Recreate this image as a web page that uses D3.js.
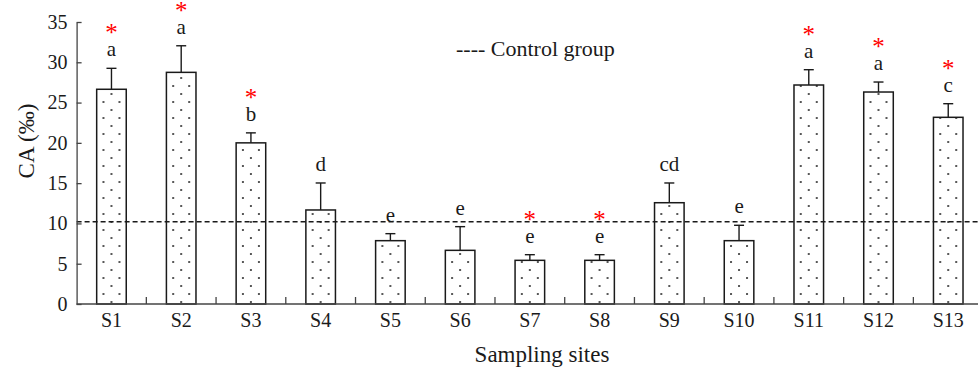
<!DOCTYPE html>
<html>
<head>
<meta charset="utf-8">
<script src="https://cdn.jsdelivr.net/npm/d3@7"></script>
<style>
  html, body { margin: 0; padding: 0; background: #fff; }
  svg { display: block; font-family: "Liberation Serif", "Times New Roman", serif; }
</style>
</head>
<body>
<svg id="chart" width="978" height="368"></svg>
<script>
// Sampling sites and their CA values (mean and standard deviation, ‰)
const sites = ["S1", "S2", "S3", "S4", "S5", "S6", "S7", "S8", "S9", "S10", "S11", "S12", "S13"];
const means = [26.65, 28.75, 20.0, 11.67, 7.86, 6.66, 5.42, 5.42, 12.57, 7.86, 27.18, 26.31, 23.17];
const errors = [2.6, 3.3, 1.24, 3.35, 0.87, 2.94, 0.7, 0.7, 2.45, 1.91, 1.9, 1.24, 1.69];
// Significance letters and asterisks (difference from the control group)
const letters = ["a", "a", "b", "d", "e", "e", "e", "e", "cd", "e", "a", "a", "c"];
const starred = [true, true, true, false, false, false, true, true, false, false, true, true, true];
const controlValue = 10.2;
const yTicks = [0, 5, 10, 15, 20, 25, 30, 35];

const W = 978, H = 368;
const plotLeft = 76.6, plotRight = 983.1, plotTop = 22, plotBottom = 304;
const ink = "#1a1a1a";

const svg = d3.select("#chart");

const x = d3.scaleBand().domain(sites).range([plotLeft, plotRight]).padding(0);
const y = d3.scaleLinear().domain([0, 35]).range([plotBottom, plotTop]);
const barW = x.bandwidth() * 0.424;
const cx = s => x(s) + x.bandwidth() / 2;

const rows = sites.map((s, i) => ({
  site: s, mean: means[i], err: errors[i], letter: letters[i], star: starred[i]
}));

// Dotted fill: one pattern per bar so the dot columns sit symmetric in each bar
const defs = svg.append("defs");
rows.forEach((d, i) => {
  const p = defs.append("pattern")
    .attr("id", "dots" + i)
    .attr("patternUnits", "userSpaceOnUse")
    .attr("width", 16).attr("height", 16)
    .attr("x", cx(d.site) - 4)
    .attr("y", y(0) - 6);
  p.append("rect").attr("width", 16).attr("height", 16).attr("fill", "#fff");
  p.append("circle").attr("cx", 4).attr("cy", 4).attr("r", 0.95).attr("fill", "#111");
  p.append("circle").attr("cx", 12).attr("cy", 12).attr("r", 0.95).attr("fill", "#111");
});

// Bars
svg.append("g").selectAll("rect")
  .data(rows).join("rect")
  .attr("x", d => cx(d.site) - barW / 2)
  .attr("y", d => y(d.mean))
  .attr("width", barW)
  .attr("height", d => y(0) - y(d.mean))
  .attr("fill", (d, i) => `url(#dots${i})`)
  .attr("stroke", ink)
  .attr("stroke-width", 1.5);

// Upper error bars
const eb = svg.append("g").attr("stroke", ink).attr("stroke-width", 1.4);
eb.selectAll("line.v").data(rows).join("line").attr("class", "v")
  .attr("x1", d => cx(d.site)).attr("x2", d => cx(d.site))
  .attr("y1", d => y(d.mean)).attr("y2", d => y(d.mean + d.err));
eb.selectAll("line.c").data(rows).join("line").attr("class", "c")
  .attr("x1", d => cx(d.site) - 5).attr("x2", d => cx(d.site) + 5)
  .attr("y1", d => y(d.mean + d.err)).attr("y2", d => y(d.mean + d.err));

// Control group reference line
svg.append("line")
  .attr("x1", plotLeft).attr("x2", W)
  .attr("y1", y(controlValue)).attr("y2", y(controlValue))
  .attr("stroke", ink).attr("stroke-width", 1.5)
  .attr("stroke-dasharray", "5,3");

// Significance letters
svg.append("g").selectAll("text")
  .data(rows).join("text")
  .attr("x", d => cx(d.site))
  .attr("y", d => y(d.mean + d.err) - 12)
  .attr("text-anchor", "middle")
  .attr("font-size", 21)
  .attr("fill", ink)
  .text(d => d.letter);

// Asterisks for sites different from control
svg.append("g").selectAll("text")
  .data(rows.filter(d => d.star)).join("text")
  .attr("x", d => cx(d.site))
  .attr("y", d => y(d.mean + d.err) - 12 - 15)
  .attr("text-anchor", "middle")
  .attr("font-size", 25)
  .attr("fill", "#ff0000")
  .text("*");

// Y axis with inward ticks
const yAxis = d3.axisLeft(y).tickValues(yTicks).tickSizeInner(-5).tickSizeOuter(0).tickPadding(9);
const gy = svg.append("g").attr("transform", `translate(${plotLeft},0)`).call(yAxis);
gy.select(".domain").attr("stroke", "#444").attr("stroke-width", 1.3);
gy.selectAll(".tick line").attr("stroke", "#444").attr("stroke-width", 1.3);
gy.selectAll(".tick text").attr("font-size", 20).attr("font-family", "Liberation Serif").attr("fill", ink);

// X axis: baseline, category separators pointing up, labels centred
const gx = svg.append("g");
gx.append("line")
  .attr("x1", plotLeft).attr("x2", W)
  .attr("y1", y(0)).attr("y2", y(0))
  .attr("stroke", "#444").attr("stroke-width", 1.3);
gx.selectAll("line.sep").data(sites.slice(1)).join("line").attr("class", "sep")
  .attr("x1", s => x(s)).attr("x2", s => x(s))
  .attr("y1", y(0)).attr("y2", y(0) - 7)
  .attr("stroke", "#444").attr("stroke-width", 1.3);
gx.selectAll("text").data(sites).join("text")
  .attr("x", s => cx(s))
  .attr("y", y(0) + 23)
  .attr("text-anchor", "middle")
  .attr("font-size", 20)
  .attr("fill", ink)
  .text(s => s);

// Axis titles
svg.append("text")
  .attr("x", 542).attr("y", 362)
  .attr("text-anchor", "middle")
  .attr("font-size", 23)
  .attr("fill", ink)
  .text("Sampling sites");

svg.append("text")
  .attr("transform", `translate(34,${141}) rotate(-90)`)
  .attr("text-anchor", "middle")
  .attr("font-size", 23)
  .attr("fill", ink)
  .text("CA (‰)");

// Legend
svg.append("text")
  .attr("x", 456).attr("y", 56)
  .attr("font-size", 22)
  .attr("fill", ink)
  .text("---- Control group");
</script>
</body>
</html>
